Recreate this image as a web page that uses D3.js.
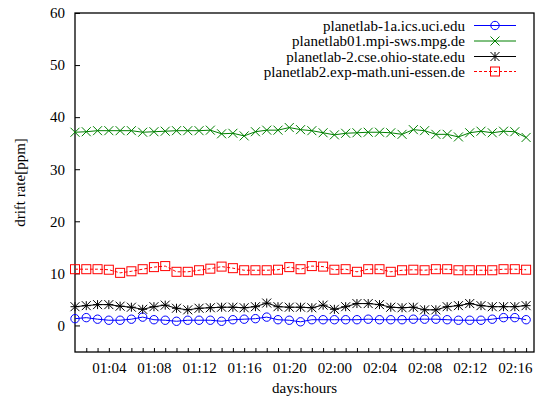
<!DOCTYPE html>
<html><head><meta charset="utf-8">
<script src="https://cdn.jsdelivr.net/npm/d3@7"></script>
<style>
html,body{margin:0;padding:0;background:#fff;}
svg text{font-family:"Liberation Serif","Times New Roman",Times,"DejaVu Serif",serif !important;font-size:15px;fill:#000;}
</style></head>
<body><svg id="c" width="538" height="399"></svg>
<script>
// hours since day 0, 00:00 (01:01 .. 02:17)
const hours = [25,26,27,28,29,30,31,32,33,34,35,36,37,38,39,40,41,42,43,44,45,46,47,48,49,50,51,52,53,54,55,56,57,58,59,60,61,62,63,64,65];
const uciValues = [1.3,1.5,1.2,1.0,1.0,1.2,1.6,1.1,1.0,0.8,1.0,1.0,1.0,0.8,1.1,1.2,1.3,1.6,1.1,1.0,0.7,1.1,1.1,1.1,1.1,1.1,1.2,1.1,1.1,1.1,1.2,1.2,1.2,1.1,1.0,1.0,1.0,1.2,1.5,1.5,1.1];
const mpiValues = [37.1,37.2,37.4,37.4,37.4,37.4,37.1,37.2,37.3,37.4,37.4,37.4,37.5,36.8,36.9,36.4,37.2,37.5,37.5,38.0,37.6,37.4,37.0,36.6,36.9,37.0,37.1,37.1,37.0,36.7,37.6,37.4,36.7,36.7,36.2,37.0,37.3,37.0,37.3,37.2,36.1];
const osuValues = [3.6,3.8,4.0,4.0,3.7,3.5,3.1,3.6,3.9,3.3,3.0,3.3,3.4,3.5,3.5,3.4,3.6,4.3,3.6,3.5,3.5,3.4,3.9,3.1,3.6,4.2,4.2,4.0,3.5,3.4,3.5,3.0,3.0,3.6,3.8,4.2,3.8,3.6,3.6,3.6,3.8];
const essenValues = [10.8,10.8,10.8,10.7,10.1,10.4,10.8,11.2,11.4,10.3,10.3,10.6,10.9,11.3,11.0,10.6,10.6,10.6,10.7,11.2,10.8,11.4,11.3,10.7,10.8,10.3,10.8,10.8,10.3,10.6,10.7,10.6,10.8,10.8,10.6,10.6,10.6,10.6,10.8,10.8,10.7];
const seriesNames = ["planetlab-1a.ics.uci.edu","planetlab01.mpi-sws.mpg.de","planetlab-2.cse.ohio-state.edu","planetlab2.exp-math.uni-essen.de"];
const yTicks = [0,10,20,30,40,50,60];
const xLabelTicks = [28,32,36,40,44,48,52,56,60,64];
const xLabels = ["01:04","01:08","01:12","01:16","01:20","02:00","02:04","02:08","02:12","02:16"];
const xTitle = "days:hours";
const yTitle = "drift rate[ppm]";

const FONT = '"Liberation Serif","Times New Roman",Times,"DejaVu Serif",serif';
const L = 75, R = 534, T = 13, B = 352;
const svg = d3.select("#c");
const x = d3.scaleLinear().domain([25, 65.7]).range([L, R]);
const y = d3.scaleLinear().domain([-5.1, 60]).range([B, T]);

const series = [
  {name: seriesNames[0], values: uciValues, color: "#0000ff", marker: "circle", dash: null},
  {name: seriesNames[1], values: mpiValues, color: "#008000", marker: "x", dash: null},
  {name: seriesNames[2], values: osuValues, color: "#000000", marker: "star", dash: null},
  {name: seriesNames[3], values: essenValues, color: "#ff0000", marker: "square", dash: "3,2"}
];

// y axis ticks (inward)
const yAxis = d3.axisLeft(y).tickValues(yTicks).tickSize(-5).tickPadding(10).tickFormat(d3.format("d"));
const gy = svg.append("g").attr("transform", `translate(${L},0)`).call(yAxis);
gy.attr("font-family", FONT).attr("font-size", 15);
gy.select(".domain").remove();
gy.selectAll("line").attr("stroke", "#000");
gy.selectAll("text").attr("fill", "#000");

// x axis: minor hourly ticks inward
const xAxisMinor = d3.axisBottom(x).tickValues(hours.slice(1)).tickSize(-4).tickFormat("");
const gxm = svg.append("g").attr("transform", `translate(0,${B})`).call(xAxisMinor);
gxm.select(".domain").remove();
gxm.selectAll("line").attr("stroke", "#000");
const xAxis = d3.axisBottom(x).tickValues(xLabelTicks).tickSize(0).tickPadding(10)
  .tickFormat((d, i) => xLabels[i]);
const gx = svg.append("g").attr("transform", `translate(0,${B})`).call(xAxis);
gx.attr("font-family", FONT).attr("font-size", 15);
gx.select(".domain").remove();
gx.selectAll("text").attr("fill", "#000");

// frame
svg.append("rect").attr("x", L).attr("y", T).attr("width", R - L).attr("height", B - T)
  .attr("fill", "none").attr("stroke", "#000").attr("stroke-width", 1.3);

// titles
svg.append("text").attr("x", (L + R) / 2).attr("y", 393).attr("text-anchor", "middle").attr("font-family", FONT).text(xTitle);
svg.append("text").attr("transform", `translate(25,${(T + B) / 2}) rotate(-90)`).attr("text-anchor", "middle").attr("font-family", FONT).text(yTitle);

function drawMarker(g, type, cx, cy, color) {
  if (type === "circle") {
    g.append("circle").attr("cx", cx).attr("cy", cy).attr("r", 4.2).attr("fill", "none").attr("stroke", color);
  } else if (type === "x") {
    const s = 4.5;
    g.append("path").attr("d", `M${cx-s},${cy-s}L${cx+s},${cy+s}M${cx-s},${cy+s}L${cx+s},${cy-s}`).attr("stroke", color).attr("fill", "none");
  } else if (type === "star") {
    const s = 4.5;
    g.append("path").attr("d", `M${cx-s},${cy-s}L${cx+s},${cy+s}M${cx-s},${cy+s}L${cx+s},${cy-s}M${cx-s},${cy}L${cx+s},${cy}M${cx},${cy-s}L${cx},${cy+s}`).attr("stroke", color).attr("fill", "none");
  } else if (type === "square") {
    const s = 4.5;
    g.append("rect").attr("x", cx - s).attr("y", cy - s).attr("width", 2 * s).attr("height", 2 * s).attr("fill", "none").attr("stroke", color);
  }
}

const line = d3.line().x((d, i) => x(hours[i])).y(d => y(d));
series.forEach(s => {
  const g = svg.append("g");
  g.append("path").datum(s.values).attr("d", line).attr("fill", "none")
    .attr("stroke", s.color).attr("stroke-width", 1).attr("stroke-dasharray", s.dash);
  s.values.forEach((v, i) => drawMarker(g, s.marker, x(hours[i]), y(v), s.color));
});

// legend
const legY = [25.5, 41, 56.5, 71.5];
series.forEach((s, i) => {
  const g = svg.append("g");
  g.append("text").attr("x", 465).attr("y", legY[i] + 5).attr("text-anchor", "end").attr("font-family", FONT).text(s.name);
  g.append("line").attr("x1", 474).attr("x2", 516).attr("y1", legY[i]).attr("y2", legY[i])
    .attr("stroke", s.color).attr("stroke-dasharray", s.dash);
  drawMarker(g, s.marker, 495, legY[i], s.color);
});
</script></body></html>
